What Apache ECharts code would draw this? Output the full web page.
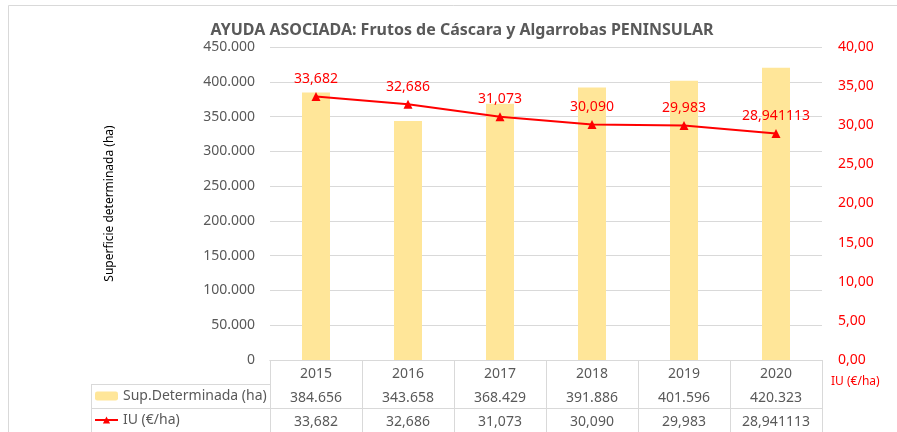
<!DOCTYPE html>
<html>
<head>
<meta charset="utf-8">
<script src="https://cdn.jsdelivr.net/npm/echarts@6/dist/echarts.min.js"></script>
<style>
html,body{margin:0;padding:0;background:#fff;}
#c{width:897px;height:432px;}
</style>
</head>
<body>
<div id="c"></div>
<script>
const years = ['2015', '2016', '2017', '2018', '2019', '2020'];
const supDeterminada = [384656, 343658, 368429, 391886, 401596, 420323];
const iuValues = [33.682, 32.686, 31.073, 30.090, 29.983, 28.941113];
const leftTicks = { min: 0, max: 450000, interval: 50000 };
const rightTicks = { min: 0, max: 40, interval: 5 };
const titleText = 'AYUDA ASOCIADA: Frutos de Cáscara y Algarrobas PENINSULAR';
const supName = 'Sup.Determinada (ha)';
const iuName = 'IU (€/ha)';

const FONT = '"Noto Sans", "Open Sans", sans-serif';
const GREY = '#595959';
const RED = '#ff0000';
const LINE = '#d9d9d9';

function thousands(v) {
  return String(Math.round(v)).replace(/\B(?=(\d{3})+(?!\d))/g, '.');
}
function iuFmt(v) {
  const s = String(v).split('.');
  let d = (s[1] || '').padEnd(3, '0');
  return s[0] + ',' + d;
}

const chart = echarts.init(document.getElementById('c'));
chart.setOption({
  animation: false,
  backgroundColor: '#fff',
  title: {
    text: titleText,
    left: 457, top: 17, textAlign: 'center',
    textStyle: { fontFamily: FONT, fontSize: 16, fontWeight: 'bold', color: GREY }
  },
  legend: {
    orient: 'vertical',
    left: 94, top: 388, height: 80, padding: 0,
    itemWidth: 23, itemHeight: 9, itemGap: 8,
    textStyle: { fontFamily: FONT, fontSize: 14, color: GREY, lineHeight: 16 },
    data: [supName, iuName]
  },
  grid: { left: 270, right: 75, top: 47, bottom: 72, containLabel: false },
  xAxis: [
    {
      type: 'category', data: years, position: 'bottom',
      axisLine: { show: true, lineStyle: { color: LINE } },
      axisTick: { show: true, length: 72, lineStyle: { color: LINE } },
      axisLabel: { color: GREY, fontFamily: FONT, fontSize: 14, margin: 7 }
    },
    {
      type: 'category', data: years, position: 'bottom', offset: 24,
      axisLine: { show: true, lineStyle: { color: LINE } },
      axisTick: { show: false },
      axisLabel: { color: GREY, fontFamily: FONT, fontSize: 14, margin: 7,
        formatter: (v, i) => thousands(supDeterminada[i]) }
    },
    {
      type: 'category', data: years, position: 'bottom', offset: 48,
      axisLine: { show: true, lineStyle: { color: LINE } },
      axisTick: { show: false },
      axisLabel: { color: GREY, fontFamily: FONT, fontSize: 14, margin: 7,
        formatter: (v, i) => iuFmt(iuValues[i]) }
    }
  ],
  yAxis: [
    {
      type: 'value', min: leftTicks.min, max: leftTicks.max, interval: leftTicks.interval,
      name: 'Superficie determinada (ha)', nameLocation: 'middle', nameGap: 154,
      nameTextStyle: { fontFamily: FONT, fontSize: 12, color: '#000' },
      axisLine: { show: false }, axisTick: { show: false },
      axisLabel: { color: GREY, fontFamily: FONT, fontSize: 14, margin: 15, formatter: thousands },
      splitLine: { show: true, lineStyle: { color: LINE } }
    },
    {
      type: 'value', min: rightTicks.min, max: rightTicks.max, interval: rightTicks.interval,
      position: 'right',
      name: iuName, nameLocation: 'start', nameGap: 16,
      nameTextStyle: { fontFamily: FONT, fontSize: 12, color: RED, align: 'left', padding: [0, 0, 0, 9] },
      axisLine: { show: false }, axisTick: { show: false },
      axisLabel: { color: RED, fontFamily: FONT, fontSize: 14, margin: 16,
        formatter: v => v.toFixed(2).replace('.', ',') },
      splitLine: { show: false }
    }
  ],
  graphic: [
    { type: 'line', shape: { x1: 91, y1: 384.5, x2: 270, y2: 384.5 }, style: { stroke: LINE, lineWidth: 1 } },
    { type: 'line', shape: { x1: 91, y1: 408.5, x2: 270, y2: 408.5 }, style: { stroke: LINE, lineWidth: 1 } },
    { type: 'line', shape: { x1: 91.5, y1: 384, x2: 91.5, y2: 432 }, style: { stroke: LINE, lineWidth: 1 } },
    { type: 'rect', shape: { x: 8.5, y: 5.5, width: 900, height: 440 }, style: { fill: 'none', stroke: LINE, lineWidth: 1 }, silent: true }
  ],
  series: [
    {
      name: supName, type: 'bar', data: supDeterminada,
      xAxisIndex: 0, yAxisIndex: 0, barWidth: 28,
      itemStyle: { color: '#ffe699' }
    },
    {
      name: iuName, type: 'line', data: iuValues,
      xAxisIndex: 0, yAxisIndex: 1,
      symbol: 'triangle', symbolSize: 9,
      lineStyle: { color: RED, width: 2 },
      itemStyle: { color: RED },
      label: { show: true, position: 'top', distance: 6, color: RED, fontFamily: FONT, fontSize: 14,
        formatter: p => iuFmt(p.value) }
    }
  ]
});
</script>
</body>
</html>
